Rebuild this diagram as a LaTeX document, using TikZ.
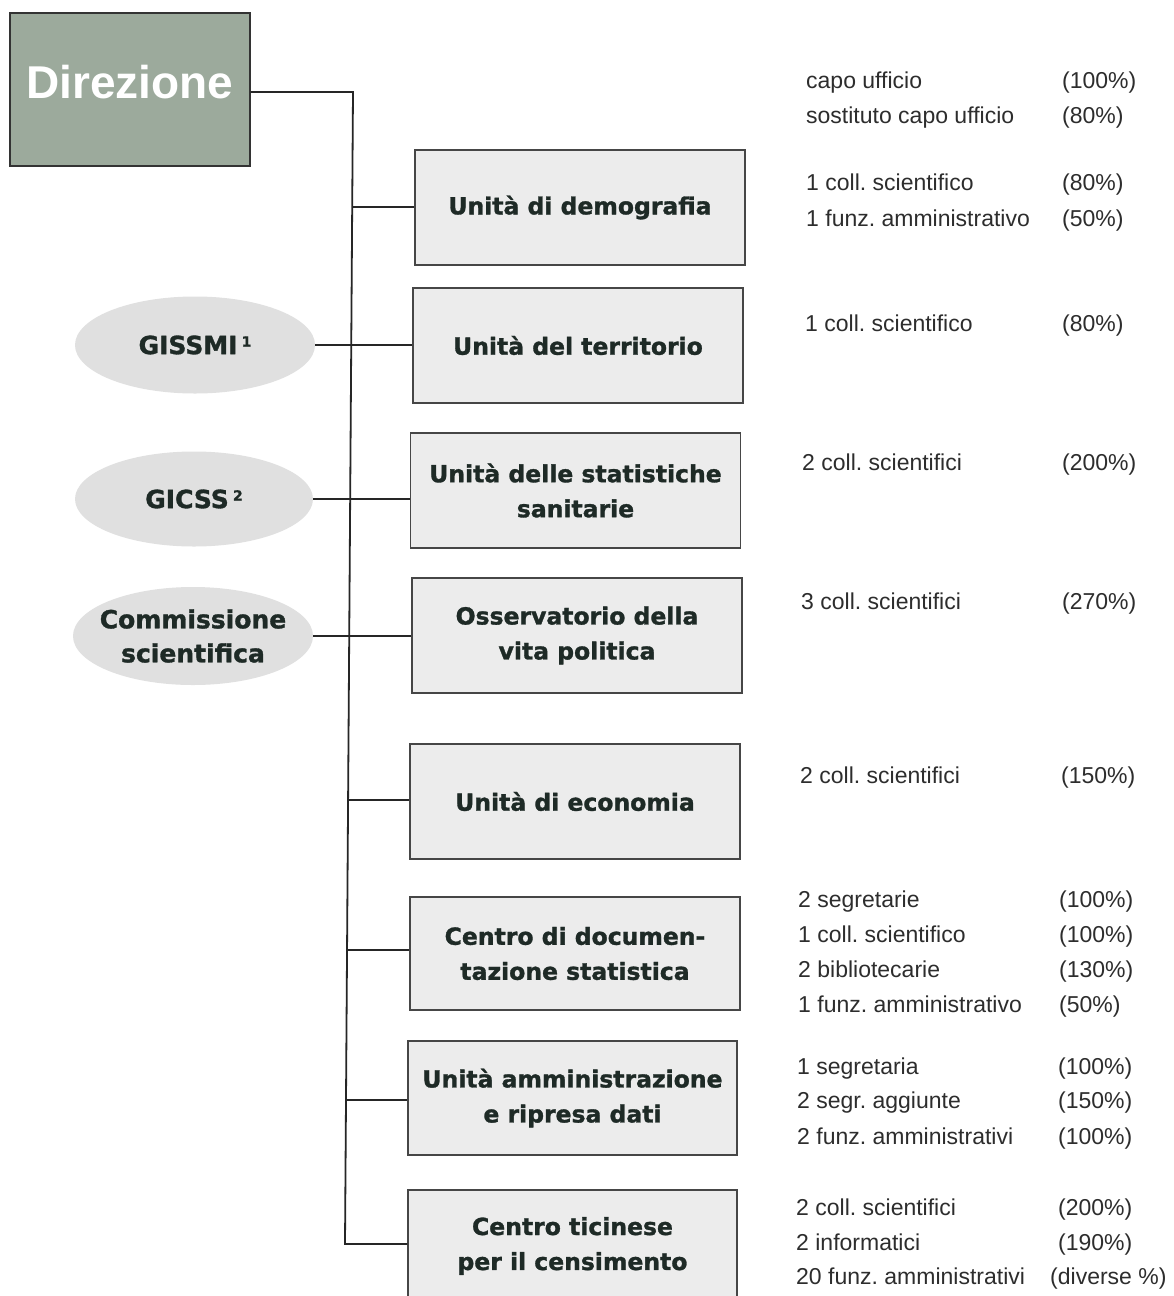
\documentclass[tikz,border=0pt]{standalone}
\usepackage{fontspec}
\setmainfont{Liberation Sans}
\newfontfamily\boxfont{DejaVu Sans}[BoldFeatures={FakeBold=1.3}]
\usetikzlibrary{shapes.geometric,calc}
\frenchspacing
\definecolor{boxfill}{RGB}{236,236,236}
\definecolor{boxline}{RGB}{70,70,70}
\definecolor{ellfill}{RGB}{224,224,224}
\definecolor{dirfill}{RGB}{156,170,156}
\definecolor{boxtext}{RGB}{30,42,38}
\definecolor{sidetext}{RGB}{45,45,45}
\tikzset{
  unitbox/.style={draw=boxline, line width=1.3pt, fill=boxfill, minimum width=330pt,
    minimum height=115pt, inner sep=0pt, align=center,
    font=\boxfont\bfseries\fontsize{23.5}{35}\selectfont, text=boxtext},
  groupell/.style={ellipse, fill=ellfill, minimum width=240pt, minimum height=97pt,
    inner xsep=-45pt, inner ysep=-25pt, align=center,
    font=\boxfont\bfseries\fontsize{25}{34}\selectfont, text=boxtext},
  conn/.style={line width=1.8pt, draw=black!85},
  side/.style={anchor=base west, inner sep=0pt, font=\frenchspacing\fontsize{23}{27}\selectfont, text=sidetext},
}
\newcommand{\supnum}[1]{\,\raisebox{0.55ex}{\fontsize{14}{14}\selectfont #1}}
\begin{document}
\begin{tikzpicture}[x=1pt,y=-1pt]
\useasboundingbox (0,0) rectangle (1173,1296);
\fill[white] (0,0) rectangle (1173,1296);

% Direzione
\node[draw=black!80, line width=1.3pt, fill=dirfill, minimum width=240pt, minimum height=153pt, inner sep=0pt] (dir) at (130,89.5) {};
\node[inner sep=0pt, font=\bfseries\fontsize{46}{46}\selectfont, text=white] (dirlabel) at (130,82) {Direzione};

% units
\node[unitbox] (b1) at (580,207.5) {Unità di demografia};
\node[unitbox] (b2) at (578,345.5) {Unità del territorio};
\node[unitbox] (b3) at (575.5,490.5) {Unità delle statistiche\\sanitarie};
\node[unitbox] (b4) at (577,635.5) {Osservatorio della\\vita politica};
\node[unitbox] (b5) at (575,801.5) {Unità di economia};
\node[unitbox, minimum height=113pt] (b6) at (575,953.5) {Centro di documen-\\tazione statistica};
\node[unitbox, minimum width=329pt, minimum height=114pt] (b7) at (572.5,1098) {Unità amministrazione\\e ripresa dati};
\node[unitbox, minimum width=329pt, minimum height=112pt] (b8) at (572.5,1246) {Centro ticinese\\per il censimento};

% groups
\node[groupell] (e1) at (195,345) {GISSMI\supnum{1}};
\node[groupell, minimum width=238pt, minimum height=95pt] (e2) at (194,499) {GICSS\supnum{2}};
\node[groupell, minimum height=98pt] (e3) at (193,636) {Commissione\\scientifica};

% trunk junctions
\coordinate (j0) at (353,92);
\coordinate (j1) at (352,207);
\coordinate (j5) at (348,800);
\coordinate (j6) at (347,950);
\coordinate (j7) at (346,1100);
\coordinate (j8) at (345,1244);

\draw[conn] (j0 -| dir.east) -- (j0) -- (j8) -- (j8 -| b8.west);
\draw[conn] (j1) -- (j1 -| b1.west);
\draw[conn] (e1.east) -- (e1.east -| b2.west);
\draw[conn] (e2.east) -- (e2.east -| b3.west);
\draw[conn] (e3.east) -- (e3.east -| b4.west);
\draw[conn] (j5) -- (j5 -| b5.west);
\draw[conn] (j6) -- (j6 -| b6.west);
\draw[conn] (j7) -- (j7 -| b7.west);

% staff lists
\node[side] (s1) at (806,88) {capo ufficio};
\node[side] (p1) at (1062,88) {(100\%)};
\node[side] (s2) at (806,123) {sostituto capo ufficio};
\node[side] (p2) at (1062,123) {(80\%)};
\node[side] (s3) at (806,190) {1 coll. scientifico};
\node[side] (p3) at (1062,190) {(80\%)};
\node[side] (s4) at (806,226) {1 funz. amministrativo};
\node[side] (p4) at (1062,226) {(50\%)};
\node[side] (s5) at (805,331) {1 coll. scientifico};
\node[side] (p5) at (1062,331) {(80\%)};
\node[side] (s6) at (802,470) {2 coll. scientifici};
\node[side] (p6) at (1062,470) {(200\%)};
\node[side] (s7) at (801,609) {3 coll. scientifici};
\node[side] (p7) at (1062,609) {(270\%)};
\node[side] (s8) at (800,783) {2 coll. scientifici};
\node[side] (p8) at (1061,783) {(150\%)};
\node[side] (s9) at (798,907) {2 segretarie};
\node[side] (p9) at (1059,907) {(100\%)};
\node[side] (s10) at (798,942) {1 coll. scientifico};
\node[side] (p10) at (1059,942) {(100\%)};
\node[side] (s11) at (798,977) {2 bibliotecarie};
\node[side] (p11) at (1059,977) {(130\%)};
\node[side] (s12) at (798,1012) {1 funz. amministrativo};
\node[side] (p12) at (1059,1012) {(50\%)};
\node[side] (s13) at (797,1074) {1 segretaria};
\node[side] (p13) at (1058,1074) {(100\%)};
\node[side] (s14) at (797,1108) {2 segr. aggiunte};
\node[side] (p14) at (1058,1108) {(150\%)};
\node[side] (s15) at (797,1144) {2 funz. amministrativi};
\node[side] (p15) at (1058,1144) {(100\%)};
\node[side] (s16) at (796,1215) {2 coll. scientifici};
\node[side] (p16) at (1058,1215) {(200\%)};
\node[side] (s17) at (796,1250) {2 informatici};
\node[side] (p17) at (1058,1250) {(190\%)};
\node[side] (s18) at (796,1284) {20 funz. amministrativi};
\node[side] (p18) at (1050,1284) {(diverse \%)};
\end{tikzpicture}
\end{document}
